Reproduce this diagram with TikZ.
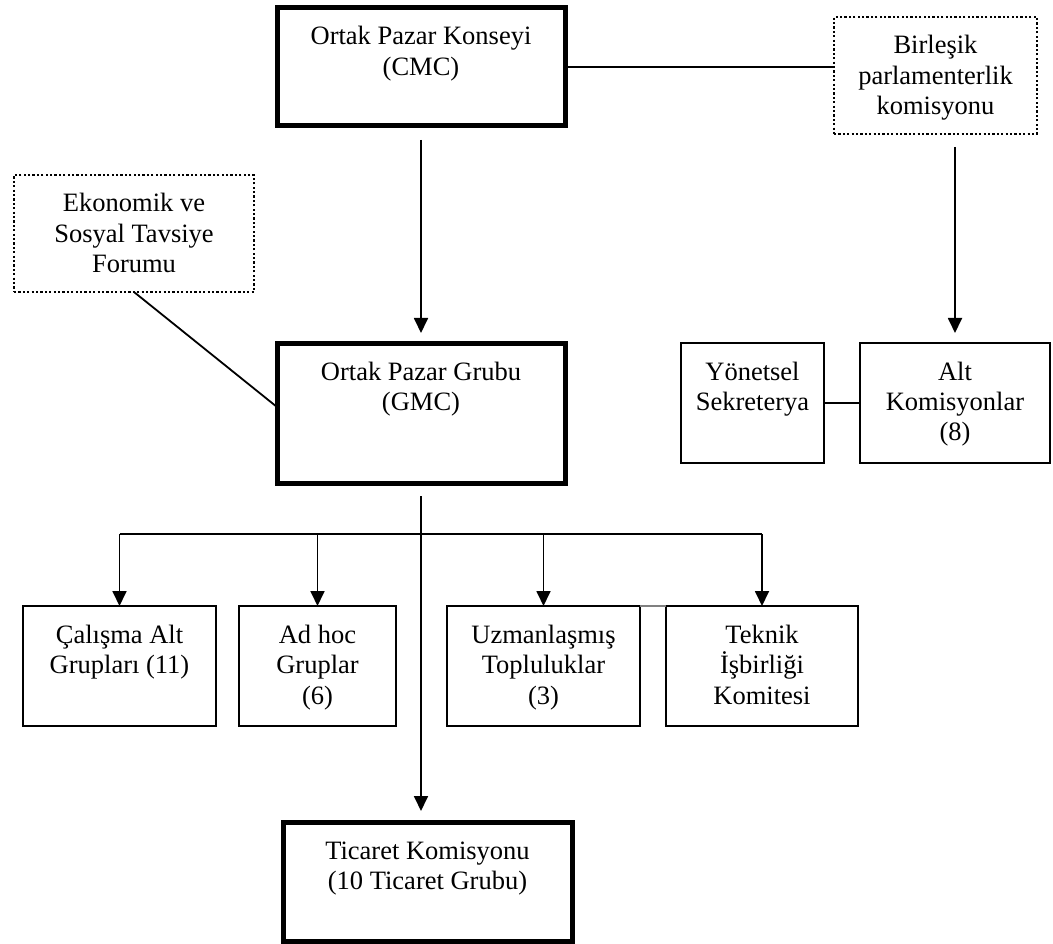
\documentclass[tikz,border=0pt]{standalone}
\usepackage{fontspec}
\setmainfont{Liberation Serif}
\usetikzlibrary{arrows.meta}
\newcommand\bx[3]{\parbox[c][#2pt][t]{#1pt}{\centering\rule{0pt}{37pt}#3\par}}
\tikzset{
  base/.style={inner sep=0pt, outer sep=0pt, font=\fontsize{26.5}{30.5}\selectfont},
  thickbox/.style={base, draw, line width=5pt},
  thinbox/.style={base, draw, line width=2.8pt},
  dotbox/.style={base, draw, line width=2.2pt, dash pattern=on 2.2pt off 2.2pt},
  conn/.style={line width=1.8pt},
  arr/.style={conn, -{Triangle[length=15pt,width=14pt]}},
}
\begin{document}
\begin{tikzpicture}[x=1pt,y=-1pt]
\useasboundingbox (0,0) rectangle (1053,944);
\node[thickbox] (cmc) at (421,67) {\bx{288}{118}{Ortak Pazar Konseyi\\(CMC)}};
\node[dotbox] (birl) at (935.5,75.5) {\bx{203}{117}{Birleşik\\parlamenterlik\\komisyonu}};
\node[dotbox] (ekon) at (134,233.5) {\bx{240}{117}{Ekonomik ve\\Sosyal Tavsiye\\Forumu}};
\node[thickbox] (gmc) at (421,413) {\bx{288}{140}{Ortak Pazar Grubu\\(GMC)}};
\node[thinbox] (yon) at (752.5,403) {\bx{143}{120}{Yönetsel\\Sekreterya}};
\node[thinbox] (alt) at (955,403) {\bx{190}{120}{Alt\\Komisyonlar\\(8)}};
\node[thinbox] (cal) at (119.5,666) {\bx{193}{120}{Çalışma Alt\\Grupları (11)}};
\node[thinbox] (adh) at (317.5,666) {\bx{157}{120}{Ad hoc\\Gruplar\\(6)}};
\node[thinbox] (uzm) at (543.5,666) {\bx{193}{120}{Uzmanlaşmış\\Topluluklar\\(3)}};
\node[thinbox] (tek) at (762,666) {\bx{192}{120}{Teknik\\İşbirliği\\Komitesi}};
\node[thickbox] (tic) at (427.5,881.5) {\bx{289}{119}{Ticaret Komisyonu\\(10 Ticaret Grubu)}};
\draw[conn] (cmc.east) -- (cmc.east -| birl.west);
\draw[arr, shorten <=14pt, shorten >=10pt] (cmc.south) -- (gmc.north);
\draw[conn] (ekon.south) -- ([yshift=6pt]gmc.west);
\draw[arr, shorten <=13pt, shorten >=10pt] (birl.south -| alt.north) -- (alt.north);
\draw[conn] (yon.east) -- (alt.west);
\coordinate (bar) at (421,534);
\draw[arr, shorten <=13pt, shorten >=11pt] (gmc.south) -- (gmc.south |- tic.north);
\draw[conn] (cal.north |- bar) -- (tek.north |- bar);
\foreach \n in {cal,adh,uzm,tek} \draw[arr] (\n.north |- bar) -- (\n.north);
\draw[conn, gray] (uzm.north east) -- (tek.north west);
\end{tikzpicture}
\end{document}
